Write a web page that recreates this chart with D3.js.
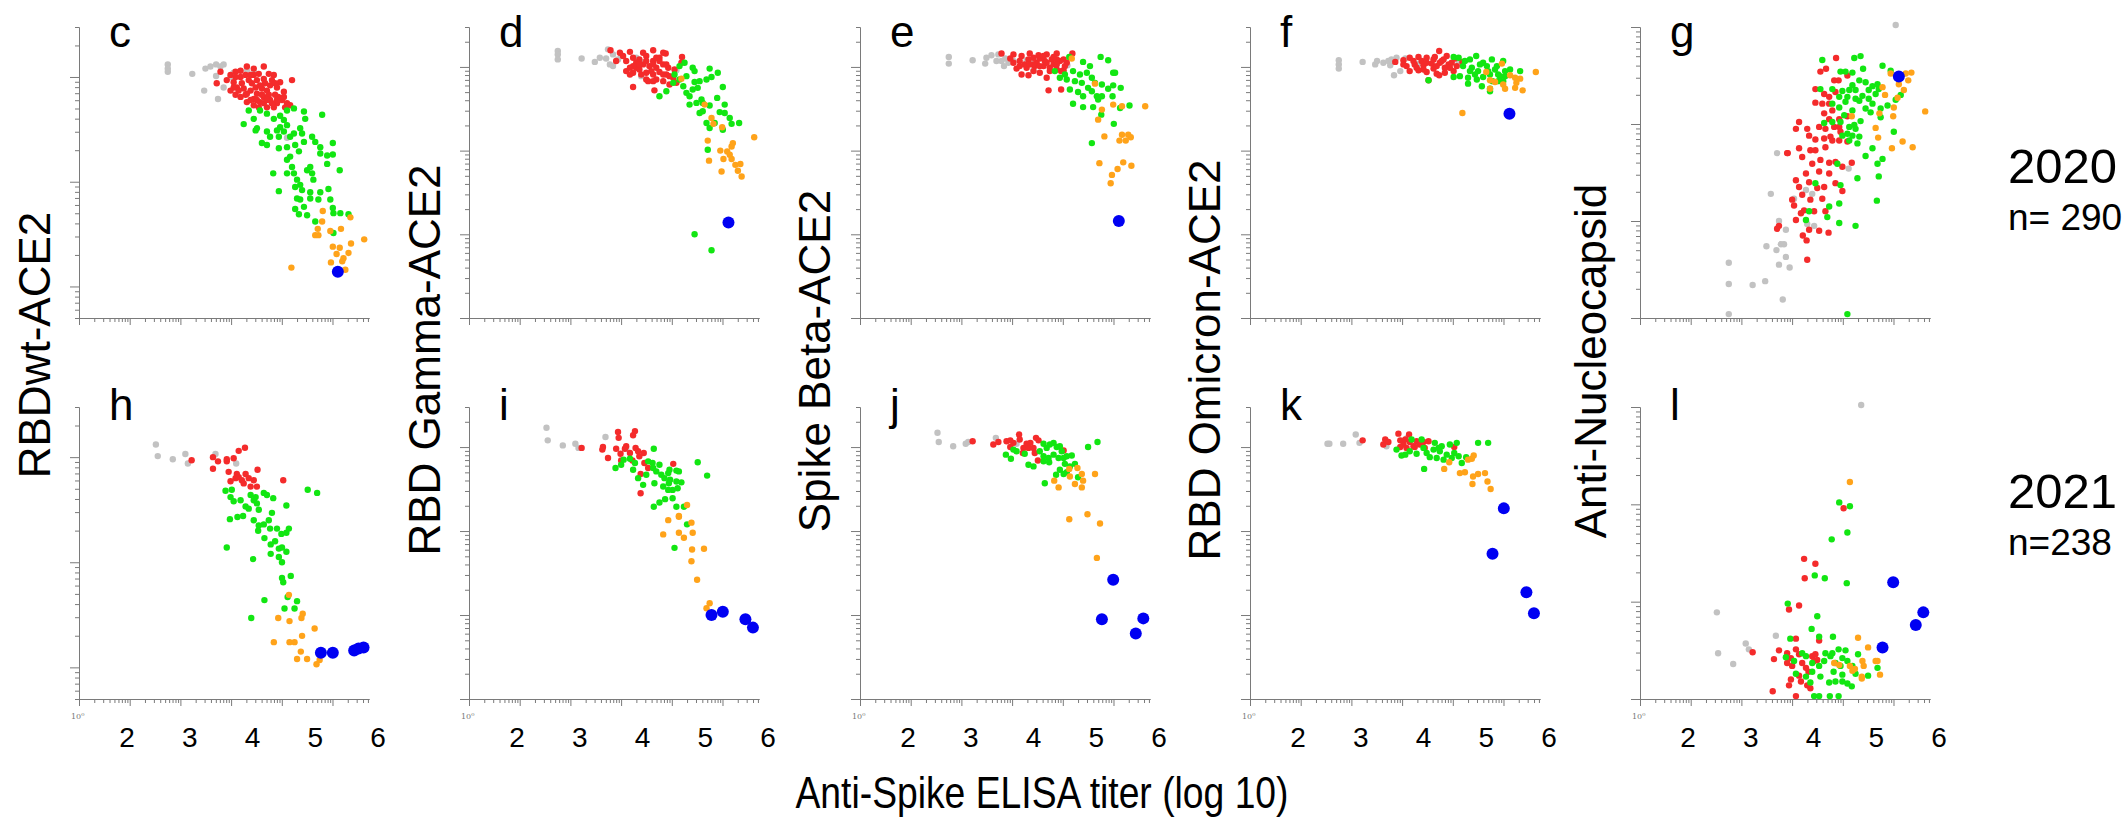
<!DOCTYPE html>
<html>
<head>
<meta charset="utf-8">
<script src="https://cdn.jsdelivr.net/npm/d3@7"></script>
<style>
  body { margin: 0; background: #fff; }
  svg { display: block; }
  text { font-family: "Liberation Sans", Arial, sans-serif; }
</style>
</head>
<body>
<div id="canvas"></div>
<script>
// labels
const panelNames = ["c", "d", "e", "f", "g", "h", "i", "j", "k", "l"];
const yTitles = ["RBDwt-ACE2", "RBD Gamma-ACE2", "Spike Beta-ACE2", "RBD Omicron-ACE2", "Anti-Nucleocapsid"];
const yearLabels = ["2020", "2021"];
const countLabels = ["n= 290", "n=238"];
const xTickLabels = [2, 3, 4, 5, 6];
const xTitle = "Anti-Spike ELISA titer (log 10)";
// y range of each column (raw values, log axis)
const yDomains = [[0.5, 300], [1, 3000], [1, 3000], [1, 3000], [1, 1000]];
const groups = ["gray", "red", "green", "orange", "blue"];

// points: [log10 anti-spike titer, log10 y value]
const cGray = [[2.65,2.12],[2.65,2.08],[2.65,2.05],[3.04,2.03],[3.25,2.08],[3.33,2.10],[3.42,2.12],[3.49,2.10],[3.54,2.12],[3.42,2.01],[3.23,1.87],[3.45,1.79],[3.54,1.90],[3.65,2.00],[3.70,2.04],[3.91,2.06],[4.02,2.05],[4.55,1.42]];
const cRed = [[3.43,1.94],[3.49,2.05],[3.59,1.97],[3.73,2.05],[3.81,2.06],[3.73,1.83],[3.91,2.10],[4.02,2.08],[4.18,2.10],[4.34,2.02],[4.63,1.97],[3.94,1.97],[4.07,1.97],[4.18,1.98],[3.75,1.90],[3.86,1.89],[3.97,1.87],[4.07,1.84],[4.18,1.81],[4.28,1.78],[4.39,1.75],[4.50,1.86],[4.47,1.78],[4.60,1.73],[4.52,1.71],[4.10,1.71],[4.23,1.71],[4.34,1.71],[4.39,1.90],[4.28,1.92],[3.81,2.00],[3.91,1.76],[4.02,1.79],[4.12,1.76],[4.23,1.87],[4.36,1.83],[4.44,1.95],[4.31,1.97],[3.70,1.95],[3.89,1.83],[4.05,1.90],[4.20,1.94],[4.02,2.02],[3.89,2.02],[3.65,2.02],[3.78,1.87],[3.99,1.94],[4.15,1.89],[4.26,1.83],[4.15,1.83],[3.83,1.94],[4.31,1.75],[4.41,1.81],[4.55,1.75],[3.70,1.90],[3.65,1.87],[3.81,1.81],[3.97,1.78],[4.07,1.78],[4.02,1.73],[4.18,1.75],[4.23,1.78],[4.39,1.78],[4.12,1.92],[3.97,2.02],[4.10,2.03],[4.26,2.03],[4.36,1.94],[4.50,1.81],[3.91,1.84],[3.73,2.00]];
const cGreen = [[3.94,1.68],[3.86,1.55],[4.02,1.60],[4.12,1.68],[4.23,1.65],[4.34,1.60],[4.44,1.63],[4.55,1.68],[4.66,1.70],[4.82,1.67],[4.84,1.60],[5.11,1.64],[4.07,1.51],[4.23,1.48],[4.05,1.49],[4.15,1.37],[4.23,1.35],[4.28,1.43],[4.42,1.43],[4.44,1.52],[4.50,1.48],[4.55,1.54],[4.60,1.43],[4.66,1.46],[4.76,1.51],[4.79,1.46],[4.42,1.32],[4.55,1.33],[4.60,1.24],[4.68,1.35],[4.74,1.29],[4.82,1.38],[4.95,1.43],[5.00,1.38],[5.08,1.33],[5.08,1.27],[5.19,1.25],[5.28,1.37],[5.28,1.26],[5.19,1.17],[5.39,1.11],[4.33,1.08],[4.42,0.91],[4.55,1.21],[4.63,1.14],[4.66,1.08],[4.71,1.02],[4.76,0.97],[4.68,0.95],[4.79,0.92],[4.87,1.11],[4.92,1.14],[4.95,1.08],[4.97,1.02],[4.92,0.90],[4.76,0.83],[4.71,0.84],[4.82,0.76],[4.68,0.74],[4.74,0.69],[4.87,0.68],[4.92,0.84],[5.05,0.83],[5.08,0.90],[5.21,0.93],[5.24,0.83],[5.28,0.75],[5.29,0.70],[5.40,0.70],[5.53,0.69],[5.00,0.62],[5.29,0.51],[4.55,1.08],[4.50,1.59],[4.39,1.49]];
const cOrange = [[5.12,0.72],[5.56,0.66],[5.11,0.62],[5.04,0.55],[5.00,0.49],[5.05,0.49],[5.24,0.53],[5.41,0.55],[5.78,0.45],[5.28,0.38],[5.39,0.37],[5.57,0.41],[5.34,0.31],[5.53,0.32],[5.45,0.27],[5.43,0.24],[5.25,0.23],[4.62,0.18],[5.48,0.16]];
const cBlue = [[5.36,0.14]];

const dGray = [[2.65,3.19],[2.65,3.15],[2.65,3.09],[3.03,3.10],[3.24,3.06],[3.32,3.11],[3.42,3.10],[3.45,3.21],[3.53,3.15],[3.48,3.03],[3.53,3.01],[3.61,3.09],[3.66,3.13],[3.90,3.11],[3.98,2.89],[4.03,3.06],[4.54,2.96]];
const dRed = [[3.49,3.20],[3.64,3.17],[3.80,3.18],[4.01,3.17],[4.17,3.20],[4.37,3.16],[4.63,3.12],[4.62,3.05],[3.74,3.07],[3.85,3.11],[3.95,3.09],[4.06,3.13],[4.17,3.07],[4.27,3.11],[4.33,3.03],[4.22,2.99],[4.11,3.01],[4.01,3.03],[3.90,2.99],[3.74,2.95],[3.85,2.93],[4.06,2.93],[4.17,2.91],[4.27,2.94],[4.38,2.91],[4.49,2.87],[4.54,2.81],[4.43,2.79],[4.33,2.83],[4.22,2.85],[4.09,2.83],[3.85,2.76],[4.19,2.72],[3.80,2.91],[3.95,2.97],[4.41,2.99],[4.51,2.97],[3.58,3.07],[3.69,3.13],[3.90,3.05],[4.33,3.17],[4.14,2.95],[3.85,3.01],[3.95,3.03],[4.17,3.03],[4.27,3.07],[4.38,3.03],[4.22,3.11],[4.06,3.07],[3.98,2.91],[4.33,2.91],[4.43,2.89],[4.17,2.83],[4.06,2.85],[3.80,2.99]];
const dGreen = [[4.27,2.65],[4.38,2.71],[4.49,2.81],[4.59,3.01],[4.67,3.05],[4.70,2.89],[4.80,2.99],[4.83,2.95],[4.83,2.82],[4.91,2.83],[5.02,2.85],[5.10,2.88],[5.20,2.93],[5.07,2.98],[5.28,2.76],[4.65,2.77],[4.70,2.69],[4.75,2.65],[4.80,2.73],[4.88,2.75],[4.94,2.61],[4.75,2.55],[4.86,2.57],[4.96,2.57],[5.07,2.54],[5.19,2.63],[5.31,2.55],[4.91,2.45],[4.96,2.47],[5.02,2.33],[5.07,2.27],[5.15,2.33],[5.23,2.46],[5.31,2.45],[5.28,2.25],[5.39,2.39],[5.42,2.32],[5.54,2.33],[5.04,2.01],[4.83,1.00],[5.10,0.81],[4.59,2.85],[4.51,2.91]];
const dOrange = [[4.62,2.86],[4.99,2.55],[5.10,2.39],[5.13,2.32],[5.27,2.28],[5.78,2.16],[5.44,2.09],[5.42,2.05],[5.04,2.12],[5.24,2.00],[5.35,1.99],[5.39,1.95],[5.29,1.90],[5.42,1.90],[5.48,1.83],[5.56,1.84],[5.52,1.76],[5.58,1.69],[5.26,1.75],[5.06,1.88]];
const dBlue = [[5.37,1.14]];

const eGray = [[2.65,3.12],[2.65,3.04],[3.03,3.08],[3.23,3.04],[3.25,3.11],[3.33,3.14],[3.44,3.15],[3.41,3.07],[3.49,3.07],[3.55,3.10],[3.60,3.05],[3.68,3.07],[3.89,3.08],[4.00,3.08],[4.00,2.96],[4.54,3.02],[3.53,3.01]];
const eRed = [[3.49,3.16],[3.68,3.15],[3.81,3.13],[3.94,3.16],[4.08,3.14],[4.21,3.15],[4.37,3.16],[4.62,3.16],[3.68,3.05],[3.78,3.07],[3.92,3.09],[4.05,3.05],[4.18,3.07],[4.29,3.09],[4.42,3.07],[4.53,3.05],[3.73,2.98],[3.89,2.99],[4.02,3.01],[4.16,3.01],[4.26,2.99],[4.37,2.97],[4.48,2.96],[3.81,2.91],[3.92,2.90],[4.21,2.87],[4.44,2.95],[4.24,2.72],[4.44,2.73],[4.32,3.03],[4.10,3.10],[4.00,3.03],[3.86,3.03],[3.63,3.10],[4.37,3.09],[4.50,3.01],[3.78,3.01],[3.94,3.03],[4.10,3.01],[4.21,3.05],[4.37,3.03],[4.00,3.11],[4.16,3.13],[4.32,3.12],[4.48,3.09],[4.26,2.95],[4.10,2.93],[4.00,2.95]];
const eGreen = [[4.57,3.12],[4.79,3.06],[4.90,3.01],[5.07,3.12],[5.19,3.08],[4.63,2.95],[4.74,2.91],[4.85,2.93],[4.93,2.87],[4.53,2.85],[4.66,2.83],[4.77,2.81],[4.87,2.75],[4.98,2.81],[5.09,2.79],[5.19,2.74],[5.27,2.93],[5.30,2.93],[5.27,2.78],[5.39,2.75],[4.58,2.73],[4.71,2.70],[4.79,2.65],[4.93,2.71],[5.01,2.65],[5.09,2.65],[4.63,2.56],[4.79,2.52],[4.95,2.52],[5.03,2.61],[5.26,2.65],[5.38,2.51],[5.53,2.54],[5.08,2.43],[5.28,2.32],[4.93,2.09],[4.42,2.87],[4.34,2.95],[4.50,2.91]];
const eOrange = [[4.61,3.10],[4.98,2.80],[5.27,2.55],[5.41,2.53],[5.78,2.53],[5.09,2.49],[5.03,2.37],[5.13,2.17],[5.41,2.19],[5.51,2.19],[5.55,2.16],[5.37,2.12],[5.47,2.12],[5.05,1.85],[5.43,1.86],[5.56,1.82],[5.34,1.78],[5.25,1.71],[5.23,1.61]];
const eBlue = [[5.36,1.16]];

const fGray = [[2.65,3.08],[2.65,3.03],[2.65,2.98],[3.03,3.06],[3.23,3.03],[3.26,3.07],[3.36,3.05],[3.44,3.07],[3.49,3.09],[3.57,3.11],[3.47,3.02],[3.53,2.90],[3.63,2.95],[3.71,3.10],[3.92,3.04],[4.00,3.07],[4.56,3.05]];
const fRed = [[3.55,3.06],[3.68,3.08],[3.78,3.11],[3.92,3.12],[4.05,3.11],[4.18,3.12],[4.25,3.19],[4.37,3.13],[4.50,3.10],[4.62,3.06],[3.73,3.01],[3.86,3.03],[4.00,3.02],[4.13,3.04],[4.26,3.05],[4.40,3.03],[4.53,3.01],[3.78,2.95],[3.92,2.96],[4.05,2.94],[4.21,2.92],[4.34,2.93],[4.48,2.95],[4.08,2.84],[4.25,2.90],[3.68,3.03],[4.42,2.99],[4.16,2.98],[3.97,3.07],[4.32,3.09],[3.84,3.07],[4.05,3.05],[4.21,3.01],[4.34,2.99],[4.16,3.09],[4.00,2.97],[4.29,3.07],[4.45,3.05],[3.89,2.99]];
const fGreen = [[4.48,3.12],[4.56,3.11],[4.66,3.07],[4.74,3.09],[4.84,3.13],[4.95,3.05],[5.09,3.09],[5.27,3.07],[4.63,3.01],[4.77,2.99],[4.87,2.95],[5.01,3.01],[5.17,3.01],[5.30,2.95],[5.38,2.97],[5.54,2.95],[4.58,2.89],[4.71,2.87],[4.82,2.91],[4.95,2.88],[5.06,2.91],[5.19,2.91],[5.30,2.89],[4.08,2.84],[4.48,2.88],[4.71,2.80],[4.93,2.77],[5.06,2.71],[5.10,2.83],[5.19,2.83],[5.27,2.83],[5.06,2.74],[4.74,2.95],[4.90,3.03],[5.03,2.95],[4.85,2.85],[5.14,2.97],[5.22,2.89]];
const fOrange = [[5.00,2.94],[5.25,3.04],[5.06,2.84],[5.14,2.82],[5.27,2.79],[5.38,2.90],[5.46,2.87],[5.54,2.86],[5.30,2.74],[5.46,2.75],[5.58,2.72],[5.79,2.94],[5.06,2.74],[4.62,2.45],[5.48,2.81]];
const fBlue = [[5.37,2.44]];

const gGray = [[5.31,3.02],[3.42,1.70],[3.32,1.28],[3.45,1.00],[3.56,0.91],[3.25,0.74],[3.41,0.70],[3.48,0.76],[3.53,0.76],[3.56,0.63],[3.45,0.55],[3.62,0.52],[3.23,0.38],[3.03,0.34],[2.65,0.57],[2.65,0.35],[3.51,0.19],[2.65,0.04],[3.88,1.32],[3.98,1.28],[3.90,0.97],[4.01,0.95],[3.69,1.23],[4.56,1.54]];
const gRed = [[4.36,2.68],[4.20,2.57],[4.11,2.54],[4.40,2.45],[4.54,2.50],[4.33,2.45],[4.03,2.36],[4.17,2.31],[4.25,2.28],[4.35,2.33],[4.03,2.22],[4.14,2.21],[4.25,2.21],[4.30,2.14],[4.17,2.11],[4.25,2.05],[4.41,2.05],[4.54,2.08],[3.77,2.02],[3.72,1.95],[3.90,1.95],[4.09,1.97],[4.19,1.95],[4.33,1.97],[4.41,1.97],[4.43,1.92],[4.27,1.87],[3.93,1.88],[4.03,1.84],[4.17,1.85],[4.30,1.83],[4.54,1.82],[3.77,1.75],[3.95,1.73],[4.19,1.76],[3.59,1.70],[3.82,1.66],[4.11,1.63],[4.25,1.60],[3.98,1.59],[4.35,1.61],[4.61,1.60],[3.88,1.49],[3.72,1.42],[3.77,1.35],[3.93,1.40],[4.06,1.34],[4.17,1.35],[4.35,1.39],[4.46,1.31],[3.66,1.22],[3.82,1.27],[3.95,1.22],[4.14,1.23],[3.69,1.16],[3.85,1.11],[3.80,1.08],[4.01,1.10],[4.19,1.10],[3.72,1.01],[3.45,0.95],[3.42,0.92],[3.93,0.91],[4.09,0.90],[4.24,0.88],[3.83,0.85],[3.89,0.80],[3.90,0.60],[3.58,1.70],[4.03,1.73],[4.41,1.83],[4.25,1.49],[4.09,1.51],[4.46,1.56]];
const gGreen = [[4.14,2.66],[4.65,2.68],[4.75,2.70],[4.43,2.54],[4.51,2.54],[4.62,2.53],[4.79,2.57],[5.10,2.60],[5.23,2.55],[4.73,2.45],[4.83,2.43],[4.94,2.39],[5.02,2.41],[4.11,2.36],[4.30,2.36],[4.46,2.34],[4.57,2.35],[4.67,2.35],[4.41,2.28],[4.54,2.28],[4.67,2.26],[4.78,2.29],[4.88,2.26],[4.99,2.31],[5.18,2.19],[5.39,2.30],[5.31,2.25],[4.83,2.16],[4.91,2.12],[5.07,2.16],[5.07,2.07],[4.30,2.21],[4.41,2.17],[4.51,2.23],[4.17,2.01],[4.30,2.02],[4.43,2.02],[4.57,1.97],[4.65,1.99],[4.46,1.88],[4.62,1.88],[4.73,1.87],[4.57,1.83],[4.75,2.03],[4.94,1.75],[4.83,1.67],[5.10,1.64],[5.02,1.59],[5.04,1.46],[5.28,1.92],[4.38,1.59],[4.43,1.37],[4.41,1.18],[4.70,1.44],[5.01,1.21],[4.41,0.98],[4.67,0.95],[4.25,1.15],[4.22,1.04],[3.93,1.10],[4.54,0.04],[4.03,1.39],[3.88,1.01],[4.62,2.40],[4.88,2.35],[5.04,2.36],[4.73,2.24],[4.94,2.21],[4.62,2.14],[4.49,2.09],[4.67,1.95],[4.54,1.90],[4.70,1.80]];
const gOrange = [[5.23,2.52],[5.47,2.52],[5.56,2.53],[5.51,2.45],[5.10,2.38],[5.14,2.30],[5.44,2.35],[5.36,2.41],[5.34,2.27],[5.28,2.17],[5.05,2.11],[5.27,2.08],[4.99,1.96],[5.03,1.86],[5.25,1.75],[5.42,1.82],[5.58,1.76],[5.78,2.13],[4.61,2.08]];
const gBlue = [[5.36,2.49]];

const hGray = [[2.46,2.12],[2.49,2.01],[2.73,1.98],[2.93,2.03],[2.97,1.94],[3.41,2.03],[3.74,1.94]];
const hRed = [[3.03,1.97],[3.37,2.00],[3.45,1.96],[3.37,1.89],[3.59,1.98],[3.70,1.99],[3.78,2.06],[3.88,2.09],[4.08,1.88],[4.49,1.78],[3.62,1.86],[3.75,1.84],[3.89,1.84],[3.65,1.77],[3.73,1.80],[3.83,1.78],[3.94,1.80],[4.02,1.78],[3.97,1.72],[4.07,1.72],[3.86,1.75],[3.78,1.81],[3.59,1.96]];
const hGreen = [[3.57,1.68],[3.67,1.69],[3.65,1.62],[3.70,1.58],[3.81,1.59],[3.89,1.53],[3.94,1.51],[4.02,1.59],[3.97,1.64],[4.05,1.62],[4.18,1.66],[4.23,1.64],[4.33,1.61],[4.07,1.56],[4.10,1.50],[4.54,1.54],[4.88,1.69],[5.03,1.66],[3.64,1.41],[3.76,1.43],[3.85,1.44],[4.02,1.40],[4.10,1.35],[4.18,1.36],[4.26,1.40],[4.31,1.47],[4.28,1.32],[4.39,1.32],[4.58,1.32],[4.09,1.30],[4.19,1.23],[4.29,1.17],[4.36,1.20],[4.46,1.27],[4.54,1.28],[4.42,1.13],[4.47,1.14],[4.54,1.10],[4.29,1.08],[4.42,1.05],[4.47,1.00],[4.01,1.03],[3.59,1.14],[4.47,0.85],[4.61,0.87],[4.49,0.81],[4.56,0.67],[4.19,0.64],[4.71,0.63],[4.51,0.56],[4.67,0.56],[3.98,0.47]];
const hOrange = [[4.58,0.69],[4.41,0.47],[4.59,0.44],[4.78,0.47],[4.80,0.51],[4.99,0.37],[4.79,0.30],[4.34,0.24],[4.59,0.24],[4.67,0.24],[4.77,0.15],[4.71,0.08],[4.87,0.08],[5.02,0.03],[5.07,0.07]];
const hBlue = [[5.09,0.14],[5.28,0.14],[5.62,0.16],[5.69,0.18],[5.77,0.19]];

const iGray = [[2.47,3.23],[2.49,3.08],[2.73,3.02],[2.93,3.04],[2.98,2.99],[3.41,3.12],[3.74,2.98]];
const iRed = [[3.03,2.99],[3.37,3.00],[3.36,2.97],[3.45,2.87],[3.61,3.18],[3.62,3.11],[3.58,2.98],[3.65,2.92],[3.66,2.84],[3.74,3.01],[3.80,2.93],[3.85,3.14],[3.88,3.19],[3.89,2.99],[3.93,2.95],[3.95,2.89],[4.02,2.93],[4.03,2.81],[4.09,2.75],[3.97,2.68],[4.49,2.80],[3.97,2.45],[3.84,2.84],[3.72,2.98]];
const iGreen = [[4.18,2.98],[3.57,2.75],[3.66,2.79],[3.70,2.85],[3.80,2.86],[3.85,2.73],[3.88,2.81],[3.93,2.63],[4.01,2.55],[4.06,2.67],[4.09,2.83],[4.16,2.81],[4.19,2.57],[4.17,2.75],[4.22,2.71],[4.27,2.79],[4.30,2.67],[4.33,2.53],[4.35,2.63],[4.41,2.69],[4.42,2.57],[4.43,2.73],[4.48,2.49],[4.48,2.39],[4.44,2.61],[4.54,2.72],[4.58,2.71],[4.62,2.58],[4.54,2.59],[4.56,2.51],[4.41,2.49],[4.27,2.34],[4.36,2.38],[4.18,2.29],[4.54,2.29],[4.66,2.29],[4.71,2.08],[4.51,1.80],[4.88,2.82],[5.03,2.66]];
const iOrange = [[4.71,2.31],[4.41,2.13],[4.58,2.18],[4.58,2.17],[4.78,2.10],[4.33,1.96],[4.58,1.98],[4.66,1.92],[4.80,1.98],[4.79,1.78],[4.98,1.79],[4.78,1.64],[4.87,1.42],[5.07,1.14],[5.02,1.08]];
const iBlue = [[5.10,1.00],[5.28,1.04],[5.64,0.95],[5.76,0.85]];

const jGray = [[2.47,3.17],[2.49,3.06],[2.72,3.01],[2.92,3.04],[2.96,3.06],[3.40,3.11],[3.73,3.04]];
const jRed = [[3.03,3.07],[3.36,3.03],[3.44,3.06],[3.57,3.07],[3.63,3.00],[3.68,3.05],[3.77,3.15],[3.78,3.09],[3.84,2.99],[3.89,3.04],[3.92,2.99],[3.95,3.05],[4.00,2.99],[4.02,2.93],[4.04,3.11],[4.08,3.08],[3.83,2.93],[4.07,2.84],[4.48,2.96],[3.63,3.08]];
const jGreen = [[3.56,2.91],[3.64,2.86],[3.73,2.95],[3.86,2.92],[3.92,2.79],[4.00,2.77],[4.10,2.95],[4.16,3.04],[4.21,2.99],[4.26,3.03],[4.32,3.05],[4.37,3.00],[4.42,3.01],[4.45,2.95],[4.16,2.89],[4.24,2.87],[4.32,2.91],[4.40,2.87],[4.48,2.87],[4.53,2.89],[4.61,2.90],[4.16,2.83],[4.25,2.82],[4.42,2.73],[4.50,2.80],[4.58,2.77],[4.66,2.80],[4.36,2.67],[4.48,2.68],[4.53,2.70],[4.71,2.64],[4.18,2.57],[4.87,3.00],[5.02,3.06],[3.68,2.97]];
const jOrange = [[4.57,2.74],[4.70,2.75],[4.77,2.68],[4.79,2.60],[4.98,2.68],[4.33,2.60],[4.40,2.52],[4.58,2.65],[4.66,2.56],[4.77,2.52],[4.57,2.14],[4.86,2.20],[5.06,2.09],[5.01,1.68]];
const jBlue = [[5.27,1.42],[5.09,0.95],[5.75,0.96],[5.63,0.78]];

const kGray = [[2.47,3.04],[2.50,3.04],[2.72,3.04],[2.92,3.15],[2.98,3.05],[3.41,3.01],[3.74,3.11]];
const kRed = [[3.03,3.08],[3.36,3.03],[3.39,3.09],[3.44,3.06],[3.60,3.16],[3.63,3.08],[3.63,3.00],[3.68,3.03],[3.71,3.09],[3.77,3.15],[3.78,3.06],[3.84,3.01],[3.89,3.07],[3.94,3.03],[4.00,3.06],[4.02,2.99],[4.08,3.07],[3.86,3.00],[4.49,3.00],[3.73,2.99]];
const kGreen = [[3.57,2.97],[3.65,2.90],[3.71,2.91],[3.81,3.09],[3.89,2.92],[3.97,3.09],[4.00,2.99],[4.05,2.93],[4.10,2.88],[4.16,2.97],[4.18,3.05],[4.21,2.87],[4.26,2.95],[4.29,3.01],[4.32,2.85],[4.37,2.91],[4.42,3.03],[4.45,2.87],[4.49,2.93],[4.53,3.05],[4.56,2.89],[4.61,2.81],[4.68,2.88],[4.01,2.74],[4.24,2.99],[4.87,3.05],[5.03,3.05],[3.78,2.95]];
const kOrange = [[4.41,2.82],[4.71,2.85],[4.77,2.86],[4.80,2.90],[4.33,2.74],[4.58,2.69],[4.66,2.70],[4.79,2.65],[4.87,2.68],[4.98,2.69],[4.78,2.56],[5.02,2.59],[5.07,2.50]];
const kBlue = [[5.28,2.27],[5.10,1.73],[5.64,1.27],[5.76,1.02]];

const lGray = [[4.76,3.02],[2.46,0.89],[2.48,0.47],[2.72,0.36],[2.92,0.57],[2.97,0.51],[3.40,0.65]];
const lRed = [[4.48,1.96],[3.85,1.44],[4.03,1.39],[3.86,1.24],[3.61,0.92],[3.77,0.96],[3.72,0.62],[3.03,0.48],[3.45,0.50],[3.37,0.41],[3.58,0.47],[3.64,0.42],[3.58,0.37],[3.66,0.34],[3.72,0.51],[3.77,0.46],[3.82,0.37],[3.88,0.32],[3.92,0.28],[3.98,0.44],[4.03,0.46],[4.01,0.39],[4.06,0.40],[3.64,0.20],[3.61,0.14],[3.80,0.18],[3.90,0.14],[3.95,0.11],[3.35,0.08],[3.72,0.03],[3.77,0.24],[4.09,0.60]];
const lGreen = [[4.41,2.02],[4.58,1.98],[4.54,1.71],[4.29,1.64],[4.02,1.27],[4.18,1.24],[4.53,1.19],[3.59,0.98],[4.06,0.85],[3.97,0.72],[4.09,0.64],[4.31,0.64],[3.63,0.62],[3.82,0.47],[3.88,0.44],[3.56,0.43],[3.69,0.39],[3.98,0.37],[4.09,0.34],[4.17,0.39],[4.19,0.47],[4.27,0.44],[4.30,0.47],[4.40,0.51],[4.51,0.50],[4.46,0.42],[4.35,0.37],[4.43,0.34],[4.54,0.39],[4.62,0.34],[4.71,0.46],[4.67,0.26],[4.87,0.24],[5.02,0.32],[3.88,0.23],[3.98,0.28],[4.11,0.23],[4.25,0.17],[4.35,0.18],[4.46,0.18],[4.54,0.16],[4.61,0.13],[4.01,0.03],[4.09,0.03],[4.26,0.03],[4.40,0.03],[4.32,0.28],[4.46,0.25],[3.72,0.26],[3.95,0.17]];
const lOrange = [[4.58,2.23],[4.71,0.63],[4.87,0.53],[4.99,0.39],[5.02,0.39],[4.78,0.39],[4.80,0.34],[4.58,0.34],[4.62,0.29],[4.66,0.31],[4.77,0.23],[4.77,0.21],[5.06,0.25],[4.33,0.37],[4.41,0.35]];
const lBlue = [[5.27,1.20],[5.75,0.89],[5.63,0.76],[5.10,0.53]];

// table of panels built from the arrays above
const panelData = [
  [cGray, cRed, cGreen, cOrange, cBlue],
  [dGray, dRed, dGreen, dOrange, dBlue],
  [eGray, eRed, eGreen, eOrange, eBlue],
  [fGray, fRed, fGreen, fOrange, fBlue],
  [gGray, gRed, gGreen, gOrange, gBlue],
  [hGray, hRed, hGreen, hOrange, hBlue],
  [iGray, iRed, iGreen, iOrange, iBlue],
  [jGray, jRed, jGreen, jOrange, jBlue],
  [kGray, kRed, kGreen, kOrange, kBlue],
  [lGray, lRed, lGreen, lOrange, lBlue]
];

const width = 2128;
const height = 818;
const colX = [79, 469, 860, 1250, 1640];
const rowTop = [27, 407];
const rowBottom = [318, 699];
const axisLen = 290;
const axisColor = "#7a7a7a";
const colors = { gray: "#c2c2c2", red: "#f42b2b", green: "#12e612", orange: "#ffa31a", blue: "#0000f2" };

const svg = d3.select('#canvas')
  .append('svg')
  .attr('width', width)
  .attr('height', height);

const isDecade = (v) => Math.abs(Math.log10(v) - Math.round(Math.log10(v))) < 1e-9;

panelData.forEach((series, idx) => {
  const col = idx % 5;
  const row = Math.floor(idx / 5);
  const g = svg.append('g').attr('transform', `translate(${colX[col]},0)`);

  // point scale follows the 2..6 labels, tick scale is the raw log titer axis
  const x = d3.scaleLinear().domain([2, 6]).range([48, 299]);
  const xTick = d3.scaleLog().domain([1, Math.pow(10, 5.72)]).range([0, axisLen]);
  const y = d3.scaleLog().domain(yDomains[col]).range([rowBottom[row], rowTop[row]]);

  const xt = xTick.ticks();
  const yt = y.ticks();

  const styleAxis = (s) => {
    s.selectAll('path, line').attr('stroke', axisColor);
    s.selectAll('text').remove();
  };

  g.append('g')
    .attr('transform', `translate(0,${rowBottom[row]})`)
    .call(d3.axisBottom(xTick).tickValues(xt.filter(v => !isDecade(v))).tickSize(4).tickSizeOuter(0))
    .call(styleAxis);
  g.append('g')
    .attr('transform', `translate(0,${rowBottom[row]})`)
    .call(d3.axisBottom(xTick).tickValues(xt.filter(isDecade)).tickSize(7).tickSizeOuter(0))
    .call(styleAxis);

  g.append('g')
    .call(d3.axisLeft(y).tickValues(yt.filter(v => !isDecade(v))).tickSize(4).tickSizeOuter(0))
    .call(styleAxis);
  g.append('g')
    .call(d3.axisLeft(y).tickValues(yt.filter(isDecade)).tickSize(9).tickSizeOuter(0))
    .call(styleAxis);

  // points
  series.forEach((pts, gi) => {
    const grp = groups[gi];
    g.append('g')
      .selectAll('circle')
      .data(pts)
      .enter()
      .append('circle')
      .attr('cx', d => x(d[0]))
      .attr('cy', d => y(Math.pow(10, d[1])))
      .attr('r', grp === 'blue' ? 6 : 3.2)
      .attr('fill', colors[grp]);
  });

  // panel letter
  g.append('text')
    .attr('x', 30)
    .attr('y', row === 0 ? 47 : 420)
    .style('font-size', '44px')
    .text(panelNames[idx]);

  if (row === 1) {
    g.selectAll('.xlab')
      .data(xTickLabels)
      .enter()
      .append('text')
      .attr('x', d => x(d))
      .attr('y', 747)
      .attr('text-anchor', 'middle')
      .style('font-size', '28px')
      .text(d => d);
    g.append('text')
      .attr('x', -8)
      .attr('y', 719)
      .attr('fill', '#777')
      .style('font-size', '8px')
      .style('font-family', 'DejaVu Serif, serif')
      .text('10\u2070');
  }
});

// y titles
const titlePos = [[50, 345], [440, 360], [830, 361], [1220, 360], [1606, 361]];
yTitles.forEach((t, i) => {
  svg.append('text')
    .attr('transform', `translate(${titlePos[i][0]},${titlePos[i][1]}) rotate(-90)`)
    .attr('text-anchor', 'middle')
    .style('font-size', '44px')
    .text(t);
});

// year labels
yearLabels.forEach((t, i) => {
  svg.append('text').attr('x', 2008).attr('y', i === 0 ? 183 : 508).style('font-size', '49px').text(t);
  svg.append('text').attr('x', 2008).attr('y', i === 0 ? 230 : 555).style('font-size', '37px').text(countLabels[i]);
});

svg.append('text')
  .attr('x', 1042)
  .attr('y', 808)
  .attr('text-anchor', 'middle')
  .attr('textLength', 493)
  .attr('lengthAdjust', 'spacingAndGlyphs')
  .style('font-family', '"Liberation Sans Narrow", "Arial Narrow", sans-serif')
  .style('font-size', '45px')
  .text(xTitle);
</script>
</body>
</html>
